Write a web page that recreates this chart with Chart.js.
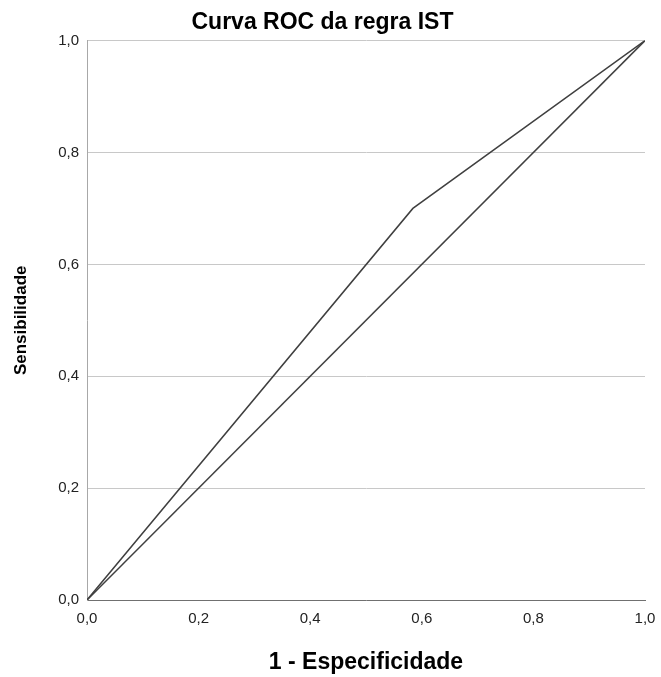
<!DOCTYPE html>
<html>
<head>
<meta charset="utf-8">
<script src="https://cdn.jsdelivr.net/npm/chart.js@4/dist/chart.umd.min.js"></script>
<style>
html,body{margin:0;padding:0;background:#fff;}
#wrap{width:661px;height:677px;position:relative;}
</style>
</head>
<body>
<div id="wrap"><canvas id="c" width="661" height="677"></canvas></div>
<script>
const rocX = [0, 0.584, 1];
const rocY = [0, 0.70, 1];
const refX = [0, 1];
const refY = [0, 1];
const tickValues = [0, 0.2, 0.4, 0.6, 0.8, 1.0];
const titleText = "Curva ROC da regra IST";
const xTitle = "1 - Especificidade";
const yTitle = "Sensibilidade";

const fmt = v => Number(v).toFixed(1).replace('.', ',');
const FONT = "'Liberation Sans', Arial, sans-serif";

new Chart(document.getElementById('c'), {
  type: 'scatter',
  data: {
    datasets: [
      { data: rocX.map((x,i)=>({x, y: rocY[i]})), showLine: true, borderColor: '#404040', borderWidth: 1.5, pointRadius: 0, fill: false },
      { data: refX.map((x,i)=>({x, y: refY[i]})), showLine: true, borderColor: '#404040', borderWidth: 1.5, pointRadius: 0, fill: false }
    ]
  },
  options: {
    responsive: false,
    animation: false,
    devicePixelRatio: 1,
    layout: { padding: { left: 0, right: 16, top: 0, bottom: 0 } },
    plugins: {
      legend: { display: false },
      tooltip: { enabled: false },
      title: { display: true, text: titleText, color: '#000', font: { family: FONT, size: 23, weight: 'bold' }, padding: { top: 9, bottom: 4 } }
    },
    scales: {
      x: {
        type: 'linear', min: 0, max: 1,
        afterBuildTicks: s => { s.ticks = tickValues.map(v => ({ value: v })); },
        afterFit: s => { s.height = 77; s.paddingRight = 0; s.paddingLeft = 0; },
        grid: { display: false, drawTicks: false },
        border: { display: true, color: '#707070', width: 1 },
        ticks: { callback: v => fmt(v), color: '#222', font: { family: FONT, size: 15 }, padding: 10, maxRotation: 0 },
        title: { display: true, text: xTitle, color: '#000', font: { family: FONT, size: 23, weight: 'bold' }, padding: { top: 0, bottom: 1 } }
      },
      y: {
        type: 'linear', min: 0, max: 1,
        afterBuildTicks: s => { s.ticks = tickValues.map(v => ({ value: v })); },
        afterFit: s => { s.width = 87; },
        grid: { display: true, color: '#c8c8c8', lineWidth: 1, drawTicks: false },
        border: { display: true, color: '#a8a8a8', width: 1 },
        ticks: { callback: v => fmt(v), color: '#222', font: { family: FONT, size: 15 }, padding: 8 },
        title: { display: true, text: yTitle, color: '#000', font: { family: FONT, size: 17, weight: 'bold' }, padding: { top: 11, bottom: 0 } }
      }
    }
  }
});
</script>
</body>
</html>
